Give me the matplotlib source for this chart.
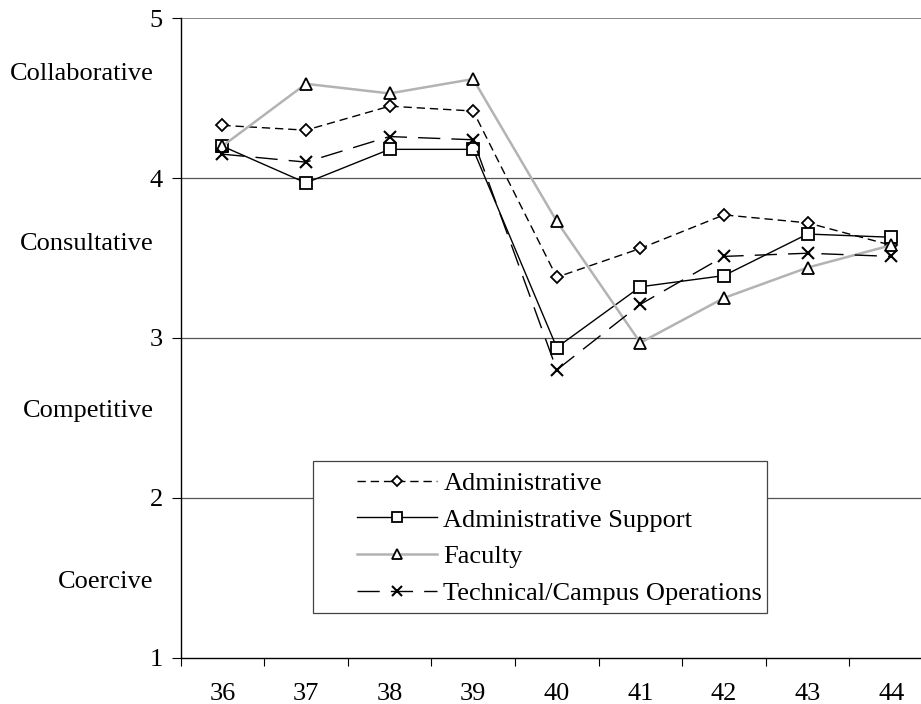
import numpy as np
import matplotlib.pyplot as plt
from matplotlib.patches import Rectangle
from matplotlib.ticker import FixedLocator, NullFormatter

plt.rcParams['font.family'] = ['Liberation Serif', 'DejaVu Serif']

ages = ['36', '37', '38', '39', '40', '41', '42', '43', '44']
administrative = [4.33, 4.30, 4.45, 4.42, 3.38, 3.56, 3.77, 3.72, 3.58]
admin_support = [4.20, 3.97, 4.18, 4.18, 2.94, 3.32, 3.39, 3.65, 3.63]
faculty = [4.20, 4.59, 4.53, 4.62, 3.73, 2.97, 3.25, 3.44, 3.58]
technical = [4.15, 4.10, 4.26, 4.24, 2.80, 3.21, 3.51, 3.53, 3.51]

styles = ['Collaborative', 'Consultative', 'Competitive', 'Coercive']
style_pos = [4.654, 3.589, 2.545, 1.473]

fs = 19
fig = plt.figure(figsize=(9.21, 7.04), dpi=100)
ax = fig.add_axes([0.196, 0.066, 0.817, 0.908])

x = np.arange(len(ages))

ax.plot(x, administrative, color='black', lw=1.0, dashes=(6, 3.5),
        marker='D', ms=6.5, mfc='white', mec='black', mew=1.3,
        label='Administrative', zorder=3)
ax.plot(x, admin_support, color='black', lw=1.0, ls='-',
        marker='s', ms=9, mfc='white', mec='black', mew=1.3,
        label='Administrative Support', zorder=3)
ax.plot(x, faculty, color='#b3b3b3', lw=1.8, ls='-',
        marker='^', ms=8.6, mfc='white', mec='black', mew=1.3,
        label='Faculty', zorder=3)
ax.plot(x, technical, color='black', lw=1.0, dashes=(16, 8),
        marker='x', ms=8.6, mec='black', mew=1.5,
        label='Technical/Campus Operations', zorder=4)

ax.set_xlim(-0.5, len(ages) - 0.5)
ax.set_ylim(1, 5)

# category labels in the middle, ticks on the boundaries
ax.set_xticks(x)
ax.set_xticklabels(ages, fontsize=fs)
ax.tick_params(axis='x', which='major', length=0, pad=18)
ax.xaxis.set_minor_locator(FixedLocator(np.arange(-0.5, len(ages), 1)))
ax.xaxis.set_minor_formatter(NullFormatter())
ax.tick_params(axis='x', which='minor', length=5.5, width=0.8, direction='out')

ax.set_yticks([1, 2, 3, 4, 5])
ax.set_yticklabels(['1', '2', '3', '4', '5'], fontsize=fs)
ax.tick_params(axis='y', length=6.8, width=0.8, direction='out', pad=6)

for v in [2, 3, 4]:
    ax.axhline(v, color='#555555', lw=0.9, zorder=1)
ax.axhline(5, color='#888888', lw=1.4, zorder=1)

for sp in ['top', 'right']:
    ax.spines[sp].set_visible(False)
ax.spines['left'].set_linewidth(1.0)
ax.spines['bottom'].set_linewidth(1.0)

for name, yv in zip(styles, style_pos):
    ax.annotate(name, xy=(0, yv), xycoords=('axes fraction', 'data'),
                xytext=(-19.5, 0), textcoords='offset points',
                ha='right', va='center', fontsize=fs)

leg = ax.legend(loc='upper left', bbox_to_anchor=(0.3873, 0.3303),
                bbox_transform=fig.transFigure, borderaxespad=0,
                fontsize=fs, handlelength=3.03, handletextpad=0.25,
                labelspacing=0.5, borderpad=0, markerscale=0.8,
                frameon=False)
leg.set_zorder(6)

# legend box drawn separately so the inner left margin matches
W, H = 921.0, 704.0
box = Rectangle((312.7 / W, 1 - 612.7 / H), (767.3 - 312.7) / W, (612.7 - 461) / H,
                transform=fig.transFigure, facecolor='white', edgecolor='#444444',
                lw=0.9, zorder=5)
ax.add_artist(box)
box.set_clip_on(False)

fig.savefig('out.png', dpi=100)
